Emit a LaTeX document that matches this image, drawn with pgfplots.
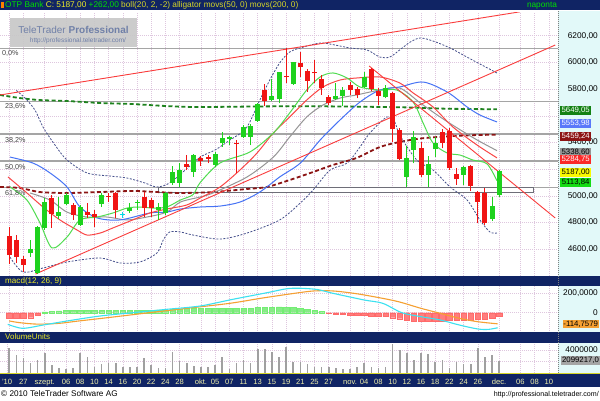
\documentclass[border=0pt]{standalone}
\usepackage{pgfplots}
\pgfplotsset{compat=1.18}
\usepackage{pgfplotstable}
\usepackage{fontspec}
\setmainfont{Liberation Sans}

\definecolor{navy}{RGB}{16,36,100}
\definecolor{cred}{RGB}{240,20,20}
\definecolor{cgreen}{RGB}{30,210,30}
\definecolor{ccyan}{RGB}{0,220,230}
\definecolor{panelbg}{RGB}{226,249,249}
\definecolor{gridc}{RGB}{222,198,222}
\definecolor{fibc}{RGB}{165,165,165}
\definecolor{bandc}{RGB}{70,80,140}
\definecolor{midc}{RGB}{150,150,150}
\definecolor{jawc}{RGB}{70,115,245}
\definecolor{teethc}{RGB}{250,70,70}
\definecolor{lipsc}{RGB}{80,220,80}
\definecolor{ma50c}{RGB}{140,20,20}
\definecolor{ma200c}{RGB}{30,130,30}
\definecolor{trendc}{RGB}{250,60,60}
\definecolor{macdc}{RGB}{60,225,240}
\definecolor{sigc}{RGB}{245,160,50}
\definecolor{histr}{RGB}{255,125,125}
\definecolor{histg}{RGB}{135,235,135}
\definecolor{volc}{RGB}{160,160,160}
\definecolor{ttyellow}{RGB}{235,235,40}
\definecolor{ttolive}{RGB}{215,215,40}
\definecolor{ttgreen}{RGB}{0,225,0}
\definecolor{datec}{RGB}{240,240,170}
\definecolor{wmtext}{RGB}{112,128,168}
\definecolor{rectc}{RGB}{110,110,120}

\pgfplotstableread{
i O H L C
3 4572 4670 4542 4602
4 4423 4775 4415 4767
5 4760 4984 4745 4954
7 4850 4992 4827 4880
8 4939 5022 4932 5007
10 4782 4932 4775 4917
13 4939 5022 4917 5007
17 4887 4947 4872 4909
18 4947 4969 4894 4954
21 4894 4947 4820 4917
22 4872 5029 4857 5022
23 5097 5224 5082 5179
24 5097 5246 5067 5194
26 5179 5314 5142 5306
29 5232 5329 5217 5314
30 5394 5481 5369 5432
31 5424 5449 5381 5439
33 5439 5531 5432 5518
34 5444 5536 5381 5526
35 5563 5698 5556 5688
37 5718 5873 5713 5748
38 5724 5930 5694 5926
40 5838 6004 5831 6001
46 5728 5843 5718 5748
47 5748 5818 5674 5793
50 5818 5930 5806 5893
53 5739 5831 5731 5806
56 5144 5374 5069 5286
57 5344 5488 5244 5444
59 5157 5299 5069 5237
60 5349 5439 5294 5399
64 5157 5224 5082 5214
68 4825 4994 4814 4925
69 5010 5195 4994 5187
}\upc

\pgfplotstableread{
i O H L C
0 4700 4767 4490 4557
1 4670 4710 4500 4542
2 4527 4550 4430 4483
6 4984 5007 4760 4864
9 4932 4947 4820 4857
11 4880 4947 4835 4857
12 4864 4894 4767 4842
14 4999 5022 4954 4992
15 5022 5029 4835 4894
19 4992 5029 4842 4909
20 4969 4984 4842 4909
25 5239 5306 5194 5217
27 5286 5299 5224 5262
28 5294 5304 5244 5279
32 5399 5419 5169 5389
36 5793 5838 5674 5713
39 5898 6106 5843 5888
41 5998 6080 5893 5963
42 5938 5948 5781 5863
43 5930 6018 5843 5918
44 5873 5906 5756 5806
45 5739 5756 5681 5698
48 5831 5856 5756 5793
49 5798 5818 5731 5756
51 5948 5956 5788 5798
52 5786 5806 5681 5748
54 5769 5781 5406 5499
55 5494 5509 5269 5274
58 5361 5406 5144 5157
61 5481 5499 5356 5399
62 5488 5506 5194 5207
63 5164 5207 5082 5124
65 5224 5232 5039 5074
66 5032 5039 4795 4957
67 5020 5062 4782 4799
}\downc

\pgfplotstableread{
i O H L C
16 4862 4880 4835 4866
}\dojic

\pgfplotstableread{
i v
0 4300000
1 3100000
2 2500000
3 1600000
4 2200000
5 3500000
6 1300000
7 850000
8 700000
9 850000
10 3400000
11 2700000
12 900000
13 1500000
14 1750000
15 1600000
16 1000000
17 900000
18 900000
19 2500000
20 1300000
21 750000
22 750000
23 3700000
24 2100000
25 1750000
26 1150000
27 900000
28 900000
29 1300000
30 2700000
31 570000
32 1750000
33 2200000
34 1600000
35 4100000
36 4100000
37 3700000
38 2700000
39 4600000
40 1900000
41 1900000
42 1500000
43 1000000
44 900000
45 1000000
46 750000
47 700000
48 570000
49 1000000
50 1750000
51 900000
52 750000
53 1000000
54 5100000
55 4000000
56 3400000
57 2200000
58 3400000
59 3300000
60 1900000
61 2200000
62 750000
63 1900000
64 1500000
65 1500000
66 4300000
67 2700000
68 3100000
69 2099217
}\vol

\pgfplotstableread{
i h
5 8
6 15
7 20
8 22
9 24
10 25
11 25
12 25
13 26
14 25
15 25
16 24
17 24
18 25
19 26
20 27
21 28
22 30
23 34
24 38
25 42
26 44
27 45
28 45
29 44
30 45
31 46
32 46
33 47
34 48
35 52
36 56
37 58
38 60
39 58
40 52
41 42
42 32
43 22
44 12
}\histpos

\pgfplotstableread{
i h
0 -55
1 -58
2 -58
3 -52
4 -25
45 -5
46 -12
47 -18
48 -24
49 -28
50 -30
51 -32
52 -34
53 -40
54 -52
55 -62
56 -75
57 -85
58 -92
59 -90
60 -88
61 -86
62 -82
63 -80
64 -78
65 -75
66 -72
67 -65
68 -55
69 -40
}\histneg

\pgfplotsset{
  ttbase/.style={
    scale only axis, anchor=south west,
    xmin=-1.296, xmax=77.296,
    axis line style={draw=none},
    tick style={draw=none},
    major tick length=0pt,
    xtick={0,2,5,8,10,12,14,16,18,20,22,24,27,29,31,33,35,37,39,41,43,45,48,50,52,54,56,58,60,62,64,66,69,72,74,76},
    xticklabels={},
    xmajorgrids, ymajorgrids,
    major grid style={draw=gridc, line width=0.6pt, dash pattern=on 1pt off 1pt},
    yticklabel pos=right,
    yticklabel style={anchor=east, xshift=40pt, inner sep=0pt, font=\fontsize{8.3}{9}\selectfont},
    scaled y ticks=false,
    clip mode=individual,
  },
  candle/.style={draw=none, mark=none, error bars/.cd, y dir=plus, y explicit, error mark=none, error bar style={draw=#1, line width=1pt}},
  body/.style={draw=none, mark=none, error bars/.cd, y dir=plus, y explicit, error mark=none, error bar style={draw=#1, line width=5pt}},
}

\begin{document}
\begin{tikzpicture}[x=1pt,y=1pt]
\useasboundingbox (0,0) rectangle (600,400);
\fill[white] (0,0) rectangle (600,400);
% right value panel
\fill[panelbg] (558,27.5) rectangle (600,389);
% title bars
\fill[navy] (0,389.5) rectangle (600,400);
\fill[orange] (0.5,392) rectangle (3.5,398);
\fill[navy] (0,114) rectangle (600,123.8);
\fill[navy] (0,57.5) rectangle (600,68.3);
\fill[navy] (0,12.7) rectangle (600,26.7);
\fill[ttolive] (0,26.7) rectangle (600,27.5);

% ================= MAIN PRICE CHART =================
\begin{axis}[ttbase, at={(0pt,124pt)}, width=558pt, height=264pt,
  ymin=4400.2, ymax=6377.5,
  ytick={4600,4800,5000,5200,5400,5600,5800,6000,6200},
  yticklabels={{4600,00},{4800,00},{5000,00},{},{5400,00},{},{5800,00},{6000,00},{6200,00}},
]
% Fibonacci levels
\addplot[fibc, line width=1.6pt] coordinates {(-1.3,6105.6) (77.3,6105.6)};
\addplot[fibc, line width=1.6pt] coordinates {(-1.3,5708) (77.3,5708)};
\addplot[fibc, line width=1.6pt] coordinates {(-1.3,5462) (77.3,5462)};
\addplot[fibc, line width=1.6pt] coordinates {(-1.3,5263) (77.3,5263)};
\addplot[fibc, line width=1.6pt] coordinates {(-1.3,5064) (77.3,5064)};
% rectangle
\addplot[draw=rectc, fill=white, line width=0.9pt] coordinates {(20.96,5066.8) (73.8,5066.8) (73.8,5029) (20.96,5029) (20.96,5066.8)};
% moving averages
\addplot[ma200c, line width=1.8pt, dash pattern=on 4pt off 2.5pt, smooth] coordinates {(-1.3,5756) (1.5,5733) (4.3,5718) (8.1,5711) (12.8,5696) (17.4,5688) (22.2,5673) (26.9,5666) (41.0,5672) (55.0,5664) (61.7,5653) (68.7,5649)};
\addplot[ma50c, line width=1.8pt, dash pattern=on 4pt off 2.5pt, smooth] coordinates {(-1.3,5067) (1.52,5059) (4.34,5029) (8.14,5022) (12.8,5029) (17.4,5037) (20.8,5029) (24.1,5022) (28.7,5029) (33.5,5052) (36.3,5067) (39.5,5119) (42.8,5179) (45.6,5232) (48.9,5284) (52.2,5366) (55.0,5404) (57.9,5430) (61.7,5446) (65.3,5455) (68.7,5459)};
% Bollinger bands
\addplot[bandc, line width=0.8pt, dash pattern=on 2pt off 1.5pt, smooth] coordinates {(1.0,5790) (2.23,5733) (3.63,5643) (4.76,5516) (6.45,5381) (8.14,5269) (10.96,5172) (14.2,5149) (16.6,5134) (19.1,5097) (20.8,5067) (22.6,5097) (24.8,5194) (26.9,5291) (29.0,5344) (31.1,5419) (33.4,5509) (35.3,5718) (36.7,5868) (38.1,5996) (39.5,6078) (41.0,6108) (43.8,6145) (45.9,6130) (48.0,6108) (50.4,6093) (52.2,6040) (53.6,6040) (55.0,6093) (56.5,6153) (57.9,6183) (59.7,6160) (62.1,6108) (64.2,6048) (66.3,5988) (68.7,5921)};
\addplot[bandc, line width=0.8pt, dash pattern=on 2pt off 1.5pt, smooth] coordinates {(0.11,4542) (1.94,4430) (4.76,4460) (8.14,4505) (12.8,4535) (15.6,4498) (18.4,4505) (20.8,4572) (21.7,4670) (22.6,4730) (24.1,4730) (25.9,4707) (29.7,4677) (33.5,4722) (38.1,4820) (41.0,4947) (42.8,5044) (45.2,5194) (47.6,5246) (49.4,5366) (50.8,5471) (53.2,5591) (54.3,5554) (55.0,5456) (57.4,5269) (59.7,5194) (62.1,5067) (64.5,4969) (66.3,4820) (67.7,4730) (68.7,4722)};
\addplot[midc, line width=1pt, smooth] coordinates {(2.93,5022) (5.75,4969) (8.14,4879) (10.96,4842) (13.8,4842) (16.6,4820) (19.4,4842) (22.2,4879) (24.1,4954) (26.9,4992) (28.7,5022) (33.5,5142) (37.2,5291) (39.5,5441) (41.9,5591) (44.2,5681) (46.6,5733) (48.9,5756) (52.2,5793) (55.0,5808) (57.9,5696) (60.7,5591) (63.1,5509) (65.9,5419) (68.7,5339)};
% alligator
\addplot[jawc, line width=1pt, smooth] coordinates {(0.11,5291) (3.35,5246) (5.75,5172) (8.14,5067) (9.97,4917) (12.4,4835) (15.6,4820) (19.8,4872) (22.2,4879) (24.1,4902) (26.9,4917) (29.7,4924) (32.5,4954) (35.3,5029) (38.1,5142) (41.0,5246) (43.8,5419) (46.6,5569) (49.4,5703) (52.2,5793) (55.0,5816) (58.3,5853) (61.7,5778) (64.5,5666) (66.3,5606) (68.7,5554)};
\addplot[teethc, line width=1pt, smooth] coordinates {(-0.17,5142) (2.5,5022) (4.76,4917) (7.15,4820) (9.55,4745) (10.96,4707) (12.8,4722) (14.6,4760) (17.4,4820) (19.8,4872) (22.2,4902) (25.0,4932) (26.9,4984) (29.7,5067) (32.5,5194) (34.9,5321) (37.2,5471) (39.5,5591) (41.9,5718) (44.2,5816) (46.6,5868) (48.9,5883) (52.2,5891) (55.0,5846) (56.9,5771) (59.7,5666) (62.5,5516) (65.9,5381) (68.7,5285)};
\addplot[lipsc, line width=1pt, smooth] coordinates {(0.11,5067) (2.5,4969) (4.34,4797) (6.03,4610) (8.14,4692) (9.97,4820) (12.4,4842) (14.6,4872) (16.6,4909) (18.4,4917) (20.3,4909) (22.2,4917) (24.1,4969) (25.9,5010) (26.9,5100) (29.7,5247) (33.9,5329) (37.2,5471) (39.5,5621) (41.9,5793) (43.8,5891) (45.6,5921) (47.6,5883) (49.4,5816) (52.2,5793) (54.6,5793) (56.9,5703) (58.3,5546) (59.7,5396) (61.7,5321) (63.5,5306) (65.3,5269) (67.3,5240) (68.7,5114)};
% trend lines
\addplot[trendc, line width=0.9pt] coordinates {(-1.3,5756) (71.94,6379)};
\addplot[trendc, line width=0.9pt] coordinates {(3.7,4415) (76.9,6130)};
\addplot[trendc, line width=0.9pt] coordinates {(50.7,5973) (76.9,4835)};
% candles: wicks
\addplot[candle=cgreen] table[x=i, y=L, y error plus expr=\thisrow{H}-\thisrow{L}] {\upc};
\addplot[candle=cred] table[x=i, y=L, y error plus expr=\thisrow{H}-\thisrow{L}] {\downc};
\addplot[candle=ccyan] table[x=i, y=L, y error plus expr=\thisrow{H}-\thisrow{L}] {\dojic};
% candles: bodies
\addplot[body=cgreen] table[x=i, y=O, y error plus expr=\thisrow{C}-\thisrow{O}] {\upc};
\addplot[body=cred] table[x=i, y=C, y error plus expr=\thisrow{O}-\thisrow{C}] {\downc};
\addplot[body=ccyan] table[x=i, y=O, y error plus expr=\thisrow{C}-\thisrow{O}] {\dojic};
\end{axis}

% Fibonacci labels
\begin{scope}[every node/.style={anchor=west, inner sep=0pt, text={rgb,255:red,70;green,70;blue,70}, font=\fontsize{7.2}{8}\selectfont}]
\node at (2,346.5) {0,0\%};
\node at (5,293.3) {23,6\%};
\node at (5,260) {38,2\%};
\node at (5,232.7) {50,0\%};
\node at (5,206.7) {61,8\%};
\end{scope}

% watermark
\fill[fill={rgb,255:red,200;green,200;blue,200}, opacity=0.92] (10,353) rectangle (137,382);
\node[anchor=center, inner sep=0pt, text=wmtext, font=\fontsize{10}{11}\selectfont] at (73.5,370) {TeleTrader \textbf{Professional}};
\node[anchor=center, inner sep=0pt, text=wmtext, font=\fontsize{6.5}{7}\selectfont] at (78,359) {http://professional.teletrader.com/};

% right value boxes (main chart)
\begin{scope}[every node/.style={anchor=west, inner sep=0.6pt, minimum height=9pt, minimum width=31pt, font=\fontsize{7.8}{8}\selectfont}]
\node[fill={rgb,255:red,20;green,130;blue,20}, text=white] at (560,290) {5649,05};
\node[fill={rgb,255:red,90;green,120;blue,250}, text=white] at (560,276.5) {5553,98};
\node[fill={rgb,255:red,140;green,20;blue,20}, text=white] at (560,264) {5459,24};
\node[fill={rgb,255:red,150;green,150;blue,150}, text=black] at (560,247.5) {5338,60};
\node[fill={rgb,255:red,250;green,40;blue,40}, text=white] at (560,240.5) {5284,75};
\node[fill={rgb,255:red,250;green,250;blue,0}, text=black] at (560,227.5) {5187,00};
\node[fill={rgb,255:red,20;green,220;blue,20}, text=black] at (560,217.5) {5113,84};
\end{scope}

% ================= MACD =================
\begin{axis}[ttbase, at={(0pt,69pt)}, width=558pt, height=45pt,
  ymin=-188.7, ymax=275.3,
  ytick={0,200}, yticklabels={{0},{200,0000}},
]
\addplot[ybar, bar width=5.5pt, bar shift=0pt, fill=histg, draw=histg!85!green] table[x=i,y=h] {\histpos};
\addplot[ybar, bar width=5.5pt, bar shift=0pt, fill=histr, draw=histr!85!red] table[x=i,y=h] {\histneg};
\addplot[sigc, line width=1.1pt, smooth] coordinates {(0,-85) (1.5,-103) (4,-118) (7,-110) (9.5,-88) (14,-50) (20.3,5) (25,45) (31.1,97) (36,155) (41.8,216) (43.9,227) (46,222) (49,195) (52.6,148) (55,110) (58,45) (60.7,-6) (63.4,-58) (66,-93) (68.8,-114.76)};
\addplot[macdc, line width=1.1pt, smooth] coordinates {(-0.2,-120) (1.9,-161) (4.8,-127) (8.1,-86) (12.8,-34) (17.4,0) (22.2,35) (26.9,69) (31.5,138) (36.3,206) (39.1,247) (41,252) (43.4,239) (45.6,200) (50,131) (52.6,97) (55.3,0) (58,-41) (60.7,-75) (63.4,-127) (66,-168) (67.5,-172) (68.8,-155)};
\end{axis}
\node[anchor=east, inner sep=0.8pt, fill=sigc, text=black, minimum height=8.5pt, font=\fontsize{7.8}{8}\selectfont] at (599,76) {-114,7579};

% ================= VOLUME =================
\begin{axis}[ttbase, at={(0pt,27.5pt)}, width=558pt, height=29.8pt,
  ymin=0, ymax=5293000,
  ytick={2000000,4000000}, yticklabels={{},{4000000}},
  xtick={-0.3,2,5,8,10,12,14,16,18,20,22,24,27,29,31,33,35,37,39,41,43,45,48,50,52,54,56,58,60,62,64,66,69,72,74,76},
  xticklabels={{'10},27,szept.,06,08,10,14,16,20,22,24,28,okt.,05,07,11,13,15,19,21,25,27,nov.,04,08,10,12,16,18,22,24,26,dec.,06,08,10},
  xticklabel style={anchor=base, inner sep=0pt, yshift=-11.5pt, text=datec, font=\fontsize{7.6}{8}\selectfont},
]
\addplot[ycomb, volc, line width=1.6pt] table[x=i,y=v] {\vol};
\end{axis}
\node[anchor=east, inner sep=0.8pt, fill={rgb,255:red,165;green,165;blue,165}, text=black, minimum height=8.5pt, font=\fontsize{7.8}{8}\selectfont] at (600,39.3) {2099217,0};

% right axis separator
\draw[gray, line width=0.5pt, dash pattern=on 1pt off 1pt] (558,27.5) -- (558,389);

% header texts
\node[anchor=west, inner sep=0pt, font=\fontsize{8.3}{9}\selectfont] at (5,394.5) {\textcolor{ttgreen}{OTP Bank} \textcolor{ttyellow}{C: 5187,00} \textcolor{ttgreen}{+262,00} \textcolor{ttolive}{boll(20, 2, -2) alligator movs(50, 0) movs(200, 0)}};
\node[anchor=center, inner sep=0pt, text=ttgreen, font=\fontsize{8.3}{9}\selectfont] at (542,394.5) {naponta};
\node[anchor=west, inner sep=0pt, text=ttyellow, font=\fontsize{8.1}{9}\selectfont] at (5,118.8) {macd(12, 26, 9)};
\node[anchor=west, inner sep=0pt, text=ttyellow, font=\fontsize{8}{9}\selectfont] at (5,62.9) {VolumeUnits};

% footer
\node[anchor=west, inner sep=0pt, font=\fontsize{8.2}{9}\selectfont] at (1,6.5) {© 2010 TeleTrader Software AG};
\node[anchor=east, inner sep=0pt, font=\fontsize{7.1}{8}\selectfont] at (599,5.5) {http://professional.teletrader.com/};
\end{tikzpicture}
\end{document}
